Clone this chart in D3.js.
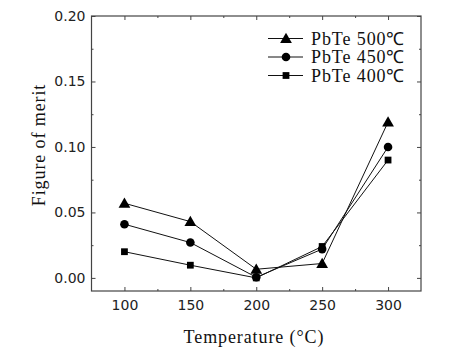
<!DOCTYPE html>
<html>
<head>
<meta charset="utf-8">
<script src="https://cdn.jsdelivr.net/npm/d3@7"></script>
<style>
  body { margin: 0; background: #fff; }
  svg { display: block; }
</style>
</head>
<body>
<div id="chart"></div>
<script>
// data
const temps = [100, 150, 200, 250, 300];
const pbte500 = [0.057, 0.043, 0.0066, 0.011, 0.119];
const pbte450 = [0.041, 0.027, 0.0005, 0.022, 0.100];
const pbte400 = [0.020, 0.0097, 0.000, 0.024, 0.090];
const seriesNames = ["PbTe 500\u2103", "PbTe 450\u2103", "PbTe 400\u2103"];
const seriesShapes = ["triangle", "circle", "square"];
const xTicks = [100, 150, 200, 250, 300];
const yTicks = [0.00, 0.05, 0.10, 0.15, 0.20];

const W = 459, H = 353;
const plot = {left: 91.5, right: 421, top: 16, bottom: 291};

const svg = d3.select("#chart").append("svg")
  .attr("width", W).attr("height", H);

const x = d3.scaleLinear().domain([75, 325]).range([plot.left, plot.right]);
const y = d3.scaleLinear().domain([-0.01, 0.20]).range([plot.bottom, plot.top]);

const tickFont = "'DejaVu Sans', sans-serif";
const serif = "'Liberation Serif', 'Times New Roman', serif";
const frameColor = "#444";

// minor ticks
const xMinor = d3.range(125, 325, 50);
const yMinor = d3.range(0.025, 0.2, 0.05);

function styleAxis(g, showText) {
  g.select(".domain").remove();
  g.selectAll("line").attr("stroke", frameColor);
  g.selectAll("text")
    .attr("font-family", tickFont).attr("font-size", 14)
    .attr("fill", "#222")
    .style("display", showText ? null : "none");
}

// bottom
svg.append("g").attr("transform", `translate(0,${plot.bottom})`)
  .call(d3.axisBottom(x).tickValues(xTicks).tickSize(-4).tickPadding(9).tickFormat(d3.format("d")))
  .call(g => styleAxis(g, true));
svg.append("g").attr("transform", `translate(0,${plot.bottom})`)
  .call(d3.axisBottom(x).tickValues(xMinor).tickSize(-2).tickFormat(""))
  .call(g => styleAxis(g, false));
// top
svg.append("g").attr("transform", `translate(0,${plot.top})`)
  .call(d3.axisTop(x).tickValues(xTicks).tickSize(-4).tickFormat(""))
  .call(g => styleAxis(g, false));
svg.append("g").attr("transform", `translate(0,${plot.top})`)
  .call(d3.axisTop(x).tickValues(xMinor).tickSize(-2).tickFormat(""))
  .call(g => styleAxis(g, false));
// left
svg.append("g").attr("transform", `translate(${plot.left},0)`)
  .call(d3.axisLeft(y).tickValues(yTicks).tickSize(-4).tickPadding(6).tickFormat(d3.format(".2f")))
  .call(g => styleAxis(g, true));
svg.append("g").attr("transform", `translate(${plot.left},0)`)
  .call(d3.axisLeft(y).tickValues(yMinor).tickSize(-2).tickFormat(""))
  .call(g => styleAxis(g, false));
// right
svg.append("g").attr("transform", `translate(${plot.right},0)`)
  .call(d3.axisRight(y).tickValues(yTicks).tickSize(-4).tickFormat(""))
  .call(g => styleAxis(g, false));
svg.append("g").attr("transform", `translate(${plot.right},0)`)
  .call(d3.axisRight(y).tickValues(yMinor).tickSize(-2).tickFormat(""))
  .call(g => styleAxis(g, false));

// frame
svg.append("rect")
  .attr("x", plot.left).attr("y", plot.top)
  .attr("width", plot.right - plot.left).attr("height", plot.bottom - plot.top)
  .attr("fill", "none").attr("stroke", frameColor).attr("stroke-width", 1.2);

// axis titles
svg.append("text")
  .attr("x", 254).attr("y", 343)
  .attr("text-anchor", "middle")
  .attr("font-family", serif).attr("font-size", 18).attr("letter-spacing", 0.9)
  .attr("fill", "#111")
  .text("Temperature (\u00b0C)");

svg.append("text")
  .attr("transform", "translate(45,145) rotate(-90)")
  .attr("text-anchor", "middle")
  .attr("font-family", serif).attr("font-size", 18).attr("letter-spacing", 0.9)
  .attr("fill", "#111")
  .text("Figure of merit");

// markers
const symbols = {
  triangle: d3.symbol().type(d3.symbolTriangle).size(60),
  circle: d3.symbol().type(d3.symbolCircle).size(58),
  square: d3.symbol().type(d3.symbolSquare).size(46)
};

const series = [pbte500, pbte450, pbte400];
const line = d3.line().x((d, i) => x(temps[i])).y(d => y(d));

series.forEach((vals, k) => {
  svg.append("path").datum(vals)
    .attr("fill", "none").attr("stroke", "#111").attr("stroke-width", 1)
    .attr("d", line);
});
series.forEach((vals, k) => {
  svg.append("g").selectAll("path").data(vals).join("path")
    .attr("transform", (d, i) => `translate(${x(temps[i])},${y(d) + (seriesShapes[k] === "triangle" ? 1 : 0)})`)
    .attr("d", symbols[seriesShapes[k]]())
    .attr("fill", "#000");
});

// legend
const legend = svg.append("g");
seriesNames.forEach((name, k) => {
  const ly = 38.5 + k * 18.5;
  legend.append("line")
    .attr("x1", 268).attr("x2", 303).attr("y1", ly).attr("y2", ly)
    .attr("stroke", "#111").attr("stroke-width", 1);
  legend.append("path")
    .attr("transform", `translate(286,${ly + (seriesShapes[k] === "triangle" ? 1 : 0)})`)
    .attr("d", symbols[seriesShapes[k]]())
    .attr("fill", "#000");
  legend.append("text")
    .attr("x", 311).attr("y", ly + 6)
    .attr("font-family", serif).attr("font-size", 18).attr("letter-spacing", 0.9)
    .attr("fill", "#111")
    .text(name);
});
</script>
</body>
</html>
